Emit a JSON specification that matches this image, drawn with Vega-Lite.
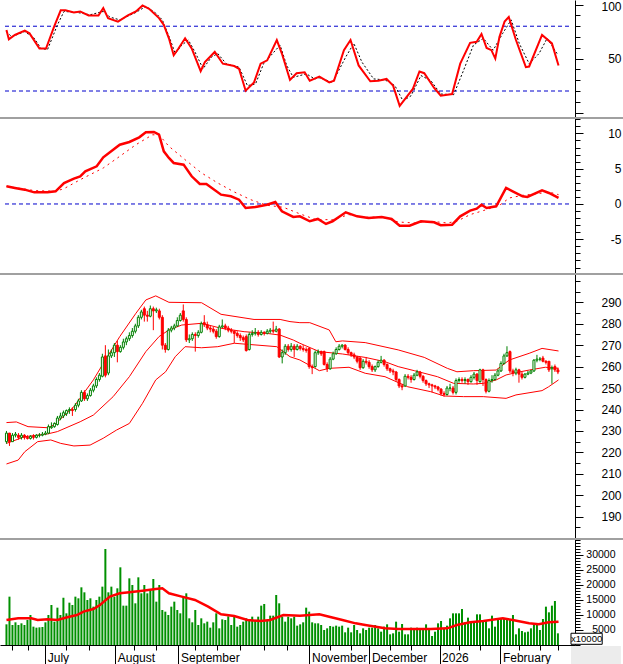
{
"$schema": "https://vega.github.io/schema/vega-lite/v6.json",
"autosize": {"type": "none"},
"padding": {"left": 0, "top": 0, "right": 0, "bottom": 19},
"width": 623,
"height": 645,
"background": "white",
"config": {"view": {"stroke": null}, "font": "Liberation Sans", "axis": {"labelFont": "Liberation Sans", "labelColor": "#000", "tickColor": "#000", "domainColor": "#000", "grid": false, "labelOverlap": false, "labelFlush": false, "labelBound": false}},
"datasets": {
"c": [
{"d":0,"o":225,"h":230,"l":224,"c":229,"v":6865},{"d":1,"o":229,"h":229,"l":223,"c":225,"v":16053},{"d":2,"o":225,"h":229,"l":225,"c":228,"v":6644},{"d":3,"o":228,"h":229.5,"l":227,"c":228.5,"v":7530},{"d":4,"o":228,"h":229,"l":226,"c":227,"v":6644},{"d":5,"o":227,"h":229,"l":226,"c":228,"v":7197},{"d":6,"o":228,"h":228.5,"l":226,"c":227,"v":6644},{"d":7,"o":227,"h":228,"l":226,"c":226.5,"v":8305},{"d":8,"o":226.5,"h":228,"l":226,"c":227.5,"v":9965},{"d":9,"o":227.5,"h":228.5,"l":226,"c":227,"v":6090},
{"d":10,"o":227,"h":228.5,"l":226.5,"c":228,"v":5758},{"d":11,"o":228,"h":229,"l":227,"c":228,"v":5869},{"d":12,"o":228,"h":229.5,"l":227.5,"c":228.5,"v":5980},{"d":13,"o":228.5,"h":230,"l":228,"c":229,"v":7530},{"d":14,"o":229,"h":233,"l":228.5,"c":232,"v":9965},{"d":15,"o":231.5,"h":234,"l":231,"c":232,"v":13286},{"d":16,"o":232,"h":234,"l":231.5,"c":233.5,"v":7751},{"d":17,"o":233,"h":237,"l":232.5,"c":236,"v":12400},{"d":18,"o":236,"h":238.5,"l":235,"c":237,"v":9965},{"d":19,"o":237,"h":239.5,"l":236,"c":238.5,"v":15721},
{"d":20,"o":238,"h":240,"l":237,"c":239.5,"v":10519},{"d":21,"o":239.5,"h":241,"l":238,"c":240,"v":14061},{"d":22,"o":240,"h":241,"l":237,"c":239.5,"v":13286},{"d":23,"o":240,"h":243,"l":239,"c":242,"v":16053},{"d":24,"o":242,"h":245,"l":241,"c":244,"v":15500},{"d":25,"o":244,"h":249,"l":243.5,"c":248,"v":19153},{"d":26,"o":248,"h":249,"l":244,"c":245,"v":17493},{"d":27,"o":245,"h":247.5,"l":244,"c":246.5,"v":14947},{"d":28,"o":246.5,"h":250,"l":246,"c":249,"v":15500},{"d":29,"o":249,"h":252,"l":248,"c":251,"v":12733},
{"d":30,"o":251,"h":255,"l":250,"c":254,"v":14947},{"d":31,"o":254,"h":257,"l":253,"c":256,"v":16053},{"d":32,"o":255.5,"h":266,"l":255,"c":264.5,"v":19375},{"d":33,"o":265,"h":270,"l":255,"c":256,"v":31884},{"d":34,"o":257,"h":268,"l":256,"c":265,"v":17493},{"d":35,"o":265,"h":268,"l":264,"c":266.5,"v":19375},{"d":36,"o":266.5,"h":271,"l":264.5,"c":270,"v":16053},{"d":37,"o":270,"h":272,"l":262,"c":267,"v":18821},{"d":38,"o":267,"h":270,"l":266.5,"c":269,"v":25795},{"d":39,"o":269,"h":273,"l":268,"c":271.5,"v":13065},
{"d":40,"o":271.5,"h":274,"l":270,"c":273,"v":13065},{"d":41,"o":273,"h":276,"l":272,"c":274.5,"v":22142},{"d":42,"o":274.5,"h":278,"l":273.5,"c":276.5,"v":19928},{"d":43,"o":276.5,"h":280,"l":275.5,"c":279,"v":13840},{"d":44,"o":279,"h":284,"l":278,"c":283,"v":22474},{"d":45,"o":283,"h":286.5,"l":282,"c":285.5,"v":17161},{"d":46,"o":287,"h":288,"l":281,"c":284,"v":19928},{"d":47,"o":284,"h":286,"l":281,"c":283.5,"v":17161},{"d":48,"o":283.5,"h":288.5,"l":283,"c":287,"v":18268},{"d":49,"o":287,"h":288,"l":277,"c":286,"v":21920},
{"d":50,"o":286,"h":287.5,"l":285,"c":286.5,"v":14393},{"d":51,"o":286,"h":287,"l":282,"c":283,"v":19928},{"d":52,"o":283,"h":284,"l":268,"c":270,"v":11626},{"d":53,"o":270,"h":271,"l":266.5,"c":268,"v":11072},{"d":54,"o":268,"h":278,"l":267.5,"c":277,"v":9965},{"d":55,"o":277,"h":279,"l":276,"c":278,"v":12733},{"d":56,"o":278,"h":280,"l":277,"c":279,"v":14393},{"d":57,"o":279,"h":283,"l":278.5,"c":281.5,"v":11626},{"d":58,"o":281.5,"h":285,"l":281,"c":284,"v":10519},{"d":59,"o":286,"h":289,"l":281,"c":282,"v":16053},
{"d":60,"o":282,"h":283,"l":271.5,"c":272.5,"v":17161},{"d":61,"o":272.5,"h":275,"l":271,"c":273,"v":8858},{"d":62,"o":273,"h":276,"l":272,"c":275,"v":7530},{"d":63,"o":275,"h":276,"l":267,"c":274.5,"v":11626},{"d":64,"o":274.5,"h":277,"l":273.5,"c":276,"v":6644},{"d":65,"o":276,"h":281,"l":275.5,"c":280,"v":8858},{"d":66,"o":280.5,"h":284,"l":278.5,"c":279.5,"v":7197},{"d":67,"o":279.5,"h":281,"l":277,"c":278,"v":7751},{"d":68,"o":278,"h":279,"l":276,"c":277.5,"v":5758},{"d":69,"o":277.5,"h":278.5,"l":275.5,"c":276.5,"v":7530},
{"d":70,"o":276.5,"h":277.5,"l":273,"c":274,"v":10519},{"d":71,"o":274,"h":279.5,"l":273.5,"c":278.5,"v":5537},{"d":72,"o":278.5,"h":282,"l":278,"c":279,"v":8526},{"d":73,"o":279,"h":280,"l":277,"c":278,"v":8305},{"d":74,"o":278,"h":279,"l":276,"c":277,"v":9522},{"d":75,"o":277,"h":278,"l":275.5,"c":276.5,"v":6644},{"d":76,"o":276.5,"h":277,"l":271,"c":275.5,"v":9522},{"d":77,"o":275.5,"h":276.5,"l":273.5,"c":274.5,"v":6090},{"d":78,"o":274.5,"h":275.5,"l":272,"c":273.5,"v":6644},{"d":79,"o":273.5,"h":274.5,"l":271.5,"c":272.5,"v":7751},
{"d":80,"o":274,"h":275,"l":267,"c":267.5,"v":8858},{"d":81,"o":268,"h":276,"l":267.5,"c":275,"v":8305},{"d":82,"o":275,"h":277,"l":274,"c":275.5,"v":9411},{"d":83,"o":275.5,"h":278,"l":274.5,"c":276,"v":7972},{"d":84,"o":276,"h":277,"l":274,"c":275,"v":9411},{"d":85,"o":275,"h":277,"l":274.5,"c":276,"v":13065},{"d":86,"o":276,"h":276.5,"l":274.5,"c":275.5,"v":13618},{"d":87,"o":275.5,"h":277.5,"l":275,"c":276.5,"v":8305},{"d":88,"o":276.5,"h":278,"l":275.5,"c":277,"v":9744},{"d":89,"o":277,"h":281,"l":275.5,"c":276.5,"v":9744},
{"d":90,"o":276.5,"h":279,"l":276,"c":277.5,"v":16607},{"d":91,"o":277.5,"h":278,"l":264,"c":264.5,"v":13840},{"d":92,"o":264.5,"h":268,"l":261.5,"c":266.5,"v":9411},{"d":93,"o":266.5,"h":270.5,"l":265.5,"c":269.5,"v":7751},{"d":94,"o":269.5,"h":270.5,"l":267,"c":268,"v":9411},{"d":95,"o":268,"h":271,"l":267,"c":269.5,"v":8858},{"d":96,"o":269.5,"h":270.5,"l":264.5,"c":268,"v":9411},{"d":97,"o":268,"h":270.5,"l":267.5,"c":269.5,"v":6423},{"d":98,"o":269.5,"h":270,"l":267.5,"c":268.5,"v":6865},{"d":99,"o":268.5,"h":270,"l":267,"c":268,"v":7530},
{"d":100,"o":268,"h":269,"l":266.5,"c":267.5,"v":12400},{"d":101,"o":268.5,"h":269,"l":259,"c":260,"v":11072},{"d":102,"o":260,"h":261,"l":256.5,"c":259.5,"v":7530},{"d":103,"o":260,"h":267.5,"l":259.5,"c":266.5,"v":7197},{"d":104,"o":266.5,"h":268,"l":265.5,"c":267,"v":7197},{"d":105,"o":267,"h":267.5,"l":265,"c":266,"v":6644},{"d":106,"o":267,"h":267.5,"l":260.5,"c":261,"v":4983},{"d":107,"o":261,"h":262,"l":257.5,"c":259,"v":5537},{"d":108,"o":259,"h":264.5,"l":258.5,"c":263.5,"v":6312},{"d":109,"o":263.5,"h":267,"l":263,"c":266,"v":6090},
{"d":110,"o":266,"h":269,"l":265.5,"c":268,"v":6423},{"d":111,"o":268,"h":270.5,"l":267.5,"c":269.5,"v":6090},{"d":112,"o":269.5,"h":270.5,"l":268.5,"c":270,"v":6423},{"d":113,"o":270,"h":270.5,"l":267.5,"c":268,"v":4209},{"d":114,"o":268,"h":269,"l":265.5,"c":266.5,"v":5758},{"d":115,"o":266.5,"h":267,"l":264.5,"c":265.5,"v":4209},{"d":116,"o":265.5,"h":266.5,"l":263.5,"c":264.5,"v":6644},{"d":117,"o":264.5,"h":265,"l":261.5,"c":262.5,"v":4983},{"d":118,"o":264,"h":264.5,"l":258.5,"c":259.5,"v":3877},{"d":119,"o":259.5,"h":263.5,"l":259,"c":262.5,"v":5537},
{"d":120,"o":262.5,"h":264.5,"l":261,"c":262,"v":4983},{"d":121,"o":262,"h":263,"l":259,"c":260,"v":5758},{"d":122,"o":260,"h":261,"l":257.5,"c":258.5,"v":5758},{"d":123,"o":258.5,"h":260.5,"l":257.5,"c":260,"v":6644},{"d":124,"o":260,"h":263,"l":259.5,"c":262,"v":5537},{"d":125,"o":262,"h":265,"l":261.5,"c":263,"v":4430},{"d":126,"o":263,"h":263.5,"l":260,"c":261,"v":6090},{"d":127,"o":261,"h":261.5,"l":258,"c":259,"v":6865},{"d":128,"o":259,"h":259.5,"l":257,"c":258,"v":3544},{"d":129,"o":258,"h":259,"l":256,"c":257.5,"v":3877},
{"d":130,"o":257.5,"h":258,"l":253,"c":254,"v":7751},{"d":131,"o":254,"h":254.5,"l":250,"c":251,"v":4430},{"d":132,"o":251,"h":252,"l":249,"c":250.5,"v":6976},{"d":133,"o":251,"h":256.5,"l":250.5,"c":255.5,"v":3544},{"d":134,"o":255.5,"h":256.5,"l":254,"c":255,"v":3544},{"d":135,"o":255,"h":256,"l":252.5,"c":254,"v":5758},{"d":136,"o":254,"h":257,"l":253.5,"c":256,"v":5316},{"d":137,"o":256,"h":258.5,"l":255.5,"c":257.5,"v":5758},{"d":138,"o":257.5,"h":258,"l":254.5,"c":255.5,"v":5537},{"d":139,"o":255.5,"h":256,"l":252.5,"c":253.5,"v":5316},
{"d":140,"o":253.5,"h":254,"l":251,"c":252,"v":6865},{"d":141,"o":252,"h":252.5,"l":250,"c":251.5,"v":4983},{"d":142,"o":251.5,"h":252,"l":248,"c":251,"v":2990},{"d":143,"o":251,"h":251.5,"l":249.5,"c":250.5,"v":4430},{"d":144,"o":250.5,"h":251,"l":248.5,"c":249.5,"v":7197},{"d":145,"o":249.5,"h":250,"l":246.5,"c":247.5,"v":7972},{"d":146,"o":247.5,"h":248.5,"l":246,"c":247,"v":5537},{"d":147,"o":247,"h":251,"l":246.5,"c":250,"v":6423},{"d":148,"o":250,"h":252,"l":248.5,"c":250,"v":8858},{"d":149,"o":250,"h":251,"l":247,"c":248,"v":10519},
{"d":150,"o":248,"h":254.5,"l":247,"c":253.5,"v":10519},{"d":151,"o":253.5,"h":255,"l":252.5,"c":254,"v":10519},{"d":152,"o":254,"h":255,"l":252.5,"c":253.5,"v":11958},{"d":153,"o":253.5,"h":255,"l":252,"c":254,"v":7530},{"d":154,"o":254,"h":254.5,"l":251.5,"c":253,"v":9080},{"d":155,"o":253,"h":256,"l":252.5,"c":255,"v":7530},{"d":156,"o":255,"h":257.5,"l":254,"c":256.5,"v":7972},{"d":157,"o":256.5,"h":257,"l":251.5,"c":253.5,"v":10186},{"d":158,"o":253,"h":259,"l":252.5,"c":258.5,"v":10186},{"d":159,"o":258.5,"h":259,"l":251,"c":254,"v":7972},
{"d":160,"o":254,"h":254.5,"l":247.5,"c":248.5,"v":8305},{"d":161,"o":248.5,"h":254.5,"l":248,"c":253.5,"v":5537},{"d":162,"o":253.5,"h":256,"l":252.5,"c":254,"v":9744},{"d":163,"o":254,"h":257,"l":253.5,"c":256,"v":6090},{"d":164,"o":256,"h":259,"l":255.5,"c":258,"v":8305},{"d":165,"o":258,"h":262.5,"l":257.5,"c":261.5,"v":8636},{"d":166,"o":261.5,"h":266,"l":261,"c":265,"v":8858},{"d":167,"o":265,"h":269.5,"l":264.5,"c":266.5,"v":8305},{"d":168,"o":267,"h":267.5,"l":257,"c":258,"v":8305},{"d":169,"o":258,"h":259,"l":255.5,"c":257,"v":9965},
{"d":170,"o":257,"h":259.5,"l":256,"c":258.5,"v":3544},{"d":171,"o":258.5,"h":259,"l":252.5,"c":256.5,"v":5537},{"d":172,"o":256.5,"h":257.5,"l":254,"c":255,"v":4651},{"d":173,"o":255,"h":257,"l":254.5,"c":256.5,"v":4209},{"d":174,"o":256.5,"h":258,"l":256,"c":257,"v":4430},{"d":175,"o":257,"h":258.5,"l":256.5,"c":258,"v":5537},{"d":176,"o":258,"h":263.5,"l":257.5,"c":263,"v":7197},{"d":177,"o":263,"h":265.5,"l":262,"c":263.5,"v":6865},{"d":178,"o":263.5,"h":264.5,"l":262.5,"c":263.5,"v":4983},{"d":179,"o":264,"h":265,"l":262,"c":262.5,"v":8636},
{"d":180,"o":262.5,"h":263,"l":261,"c":262,"v":12733},{"d":181,"o":262.5,"h":262.5,"l":257.5,"c":258.5,"v":10850},{"d":182,"o":259,"h":260.5,"l":252,"c":259.5,"v":13065},{"d":183,"o":260,"h":261,"l":257.5,"c":258.5,"v":14614},{"d":184,"o":258.5,"h":259.5,"l":256.5,"c":257.5,"v":3877}
],
"k": [{"d":0,"v":76.5},{"d":0.8,"v":67.8},{"d":2.8,"v":71.9},{"d":6.1,"v":75.9},{"d":7.7,"v":73.4},{"d":11,"v":59.4},{"d":13.2,"v":59.4},{"d":15.9,"v":79.6},{"d":18.1,"v":94.7},{"d":19.7,"v":94.7},{"d":22.5,"v":92.8},{"d":24.6,"v":93.7},{"d":27.4,"v":90},{"d":30.7,"v":90},{"d":32.3,"v":96.9},{"d":33.9,"v":87.5},{"d":37.2,"v":84.3},{"d":40.5,"v":90},{"d":43.2,"v":93.7},{"d":45.4,"v":99.3},{"d":47.6,"v":96.2},{"d":50.9,"v":87.5},{"d":52.5,"v":81.2},{"d":54.2,"v":68.8},{"d":55.8,"v":53.1},{"d":57.4,"v":59.4},{"d":59.6,"v":68.8},{"d":61.8,"v":59.4},{"d":64.8,"v":38.4},{"d":66.2,"v":46.8},{"d":69.5,"v":56.2},{"d":72.2,"v":45.3},{"d":76,"v":43.1},{"d":77.6,"v":40.6},{"d":79.8,"v":20.3},{"d":82.6,"v":28},{"d":84.8,"v":45.3},{"d":87,"v":48.4},{"d":90.2,"v":67.2},{"d":91.9,"v":54.7},{"d":94.6,"v":30.3},{"d":96.8,"v":36.5},{"d":99.5,"v":37.4},{"d":101.2,"v":29.6},{"d":104.4,"v":33.4},{"d":107.7,"v":28},{"d":109.3,"v":29.6},{"d":112.6,"v":57.8},{"d":114.8,"v":67.2},{"d":117.5,"v":43.7},{"d":121.4,"v":29},{"d":124.1,"v":29.6},{"d":126.8,"v":31.2},{"d":129,"v":25},{"d":131.2,"v":6.2},{"d":135.6,"v":21.9},{"d":137.8,"v":38.1},{"d":139.4,"v":36.5},{"d":142.7,"v":22.8},{"d":144.9,"v":15.6},{"d":148.7,"v":17.2},{"d":151.4,"v":45.3},{"d":154.7,"v":64.6},{"d":156.9,"v":65.6},{"d":158.5,"v":72.8},{"d":160.2,"v":59.9},{"d":161.8,"v":57.8},{"d":163.1,"v":50},{"d":164.5,"v":70.3},{"d":166.2,"v":84.3},{"d":167.6,"v":88.5},{"d":170,"v":67.2},{"d":173.3,"v":42.1},{"d":174.4,"v":42.7},{"d":178.7,"v":71.9},{"d":182,"v":64.1},{"d":184.2,"v":43.7}],
"kd": [{"d":0,"v":75},{"d":1.7,"v":70.3},{"d":6.1,"v":75},{"d":9.3,"v":68.8},{"d":11.5,"v":59.4},{"d":13.7,"v":58.4},{"d":17,"v":81.2},{"d":19.2,"v":93.7},{"d":23.5,"v":92.8},{"d":27.9,"v":90.6},{"d":32.3,"v":93.7},{"d":34.5,"v":88.5},{"d":37.8,"v":85.9},{"d":43.2,"v":92.8},{"d":46.5,"v":98.4},{"d":49.8,"v":92.2},{"d":52,"v":85.9},{"d":54.7,"v":67.2},{"d":56.3,"v":54.7},{"d":58.5,"v":62.5},{"d":60.7,"v":67.2},{"d":62.9,"v":56.2},{"d":65.6,"v":40.6},{"d":68.4,"v":51.5},{"d":70.5,"v":54.7},{"d":73.3,"v":45.3},{"d":77.6,"v":42.1},{"d":80.4,"v":25},{"d":83.1,"v":26.5},{"d":85.8,"v":45.3},{"d":91.3,"v":62.5},{"d":93.5,"v":43.7},{"d":95.7,"v":32.7},{"d":100.1,"v":35.9},{"d":102.8,"v":31.2},{"d":104.4,"v":32.2},{"d":108.8,"v":28},{"d":113.2,"v":51.5},{"d":115.9,"v":64.1},{"d":118.6,"v":46.8},{"d":122.5,"v":31.2},{"d":126.3,"v":30.3},{"d":129.6,"v":25},{"d":132.3,"v":10.9},{"d":135,"v":15.6},{"d":138.3,"v":34.3},{"d":141.6,"v":29.6},{"d":144.9,"v":17.2},{"d":149.2,"v":16.6},{"d":152.5,"v":39},{"d":155.8,"v":62.5},{"d":159.1,"v":68.8},{"d":162.4,"v":57.8},{"d":165.6,"v":73.5},{"d":168.4,"v":85.9},{"d":171.1,"v":64.1},{"d":174.4,"v":45.3},{"d":177.7,"v":54.7},{"d":180.4,"v":68.8},{"d":183.7,"v":54.7}],
"m": [{"d":0,"v":2.5},{"d":2.8,"v":2.27},{"d":6.1,"v":2.03},{"d":9.3,"v":1.65},{"d":13.7,"v":1.65},{"d":16.4,"v":1.8},{"d":19.2,"v":2.97},{"d":22.5,"v":3.59},{"d":24.6,"v":3.92},{"d":26.3,"v":4.63},{"d":30.1,"v":5.33},{"d":32.3,"v":6.61},{"d":35.6,"v":7.69},{"d":37.8,"v":8.4},{"d":41,"v":8.78},{"d":44.3,"v":9.44},{"d":46.5,"v":10.15},{"d":49.2,"v":10.2},{"d":50.9,"v":9.82},{"d":52.5,"v":7.46},{"d":54.2,"v":6.52},{"d":55.8,"v":5.81},{"d":59.1,"v":5.57},{"d":61.8,"v":3.92},{"d":64.5,"v":2.83},{"d":66.7,"v":2.83},{"d":71.6,"v":1.32},{"d":74.9,"v":1.09},{"d":77.6,"v":0.61},{"d":79.8,"v":-0.57},{"d":83.1,"v":-0.42},{"d":86.9,"v":-0.1},{"d":89.7,"v":0.28},{"d":91.9,"v":-1.04},{"d":95.7,"v":-1.84},{"d":97.9,"v":-1.75},{"d":101.2,"v":-2.45},{"d":103.9,"v":-2.12},{"d":106.6,"v":-2.83},{"d":108.8,"v":-2.45},{"d":113.2,"v":-1.18},{"d":117,"v":-1.75},{"d":120.8,"v":-1.98},{"d":125.2,"v":-1.84},{"d":128.5,"v":-2.12},{"d":131.2,"v":-3.07},{"d":134.5,"v":-3.07},{"d":138.3,"v":-2.45},{"d":142.7,"v":-2.6},{"d":144.9,"v":-3.0},{"d":148.7,"v":-2.93},{"d":151.4,"v":-1.75},{"d":154.7,"v":-0.94},{"d":156.9,"v":-0.66},{"d":158.5,"v":-0.1},{"d":160.2,"v":-0.57},{"d":163.4,"v":-0.33},{"d":166.7,"v":2.27},{"d":168.9,"v":1.8},{"d":172.2,"v":1.09},{"d":173.8,"v":1.0},{"d":178.7,"v":1.94},{"d":181,"v":1.56},{"d":184.2,"v":0.85}],
"ms": [{"d":0,"v":2.5},{"d":9.3,"v":1.9},{"d":16.4,"v":1.8},{"d":19.2,"v":2.17},{"d":24.6,"v":3.44},{"d":32.3,"v":5.1},{"d":37.8,"v":6.75},{"d":43.2,"v":8.4},{"d":48.7,"v":9.8},{"d":50.9,"v":9.8},{"d":54.2,"v":8.17},{"d":59.6,"v":6.27},{"d":65.1,"v":4.39},{"d":70.5,"v":2.97},{"d":76,"v":1.7},{"d":81.5,"v":0.61},{"d":86.9,"v":-0.18},{"d":92.4,"v":-0.47},{"d":97.9,"v":-1.4},{"d":103.3,"v":-2.22},{"d":108.8,"v":-2.22},{"d":114.3,"v":-1.51},{"d":119.7,"v":-1.89},{"d":125.2,"v":-1.84},{"d":130.7,"v":-2.55},{"d":136.1,"v":-2.69},{"d":141.6,"v":-2.45},{"d":147.1,"v":-2.69},{"d":150.3,"v":-2.45},{"d":154.7,"v":-1.51},{"d":159.1,"v":-0.94},{"d":164.5,"v":-0.19},{"d":167.8,"v":0.85},{"d":172.2,"v":1.23},{"d":176.6,"v":1.42},{"d":181,"v":1.7},{"d":184.2,"v":1.32}],
"bb": [{"b":"u","d":0,"v":233.9},{"b":"u","d":3.3,"v":234.2},{"b":"u","d":7.2,"v":232},{"b":"u","d":13.7,"v":231.5},{"b":"u","d":15.9,"v":232.8},{"b":"u","d":22.5,"v":241.3},{"b":"u","d":29,"v":253.8},{"b":"u","d":32.3,"v":261.5},{"b":"u","d":37.8,"v":274},{"b":"u","d":43.2,"v":284.9},{"b":"u","d":46.5,"v":291.1},{"b":"u","d":49.8,"v":293},{"b":"u","d":54.2,"v":290},{"b":"u","d":65.1,"v":289.8},{"b":"u","d":71.6,"v":284.4},{"b":"u","d":82.6,"v":282},{"b":"u","d":91.3,"v":282},{"b":"u","d":94.6,"v":281},{"b":"u","d":97.9,"v":280.5},{"b":"u","d":101.2,"v":280.5},{"b":"u","d":107.7,"v":277.1},{"b":"u","d":109.9,"v":271.6},{"b":"u","d":112.1,"v":272},{"b":"u","d":119.7,"v":271.2},{"b":"u","d":130.7,"v":267.8},{"b":"u","d":139.4,"v":264.3},{"b":"u","d":147.1,"v":259.2},{"b":"u","d":150.3,"v":257.6},{"b":"u","d":155.8,"v":258.1},{"b":"u","d":163.4,"v":258.4},{"b":"u","d":167.8,"v":263.1},{"b":"u","d":174.4,"v":266.2},{"b":"u","d":178.7,"v":268.5},{"b":"u","d":184.2,"v":267.3},
{"b":"m","d":0,"v":224.2},{"b":"m","d":6.1,"v":227.3},{"b":"m","d":13.7,"v":228.6},{"b":"m","d":17,"v":229.7},{"b":"m","d":24.6,"v":234.3},{"b":"m","d":29,"v":237.4},{"b":"m","d":35.6,"v":246},{"b":"m","d":41,"v":255.3},{"b":"m","d":46.5,"v":267},{"b":"m","d":50.9,"v":274},{"b":"m","d":54.2,"v":277.1},{"b":"m","d":58.5,"v":279.4},{"b":"m","d":65.1,"v":280.2},{"b":"m","d":71.6,"v":277.9},{"b":"m","d":79.3,"v":276.3},{"b":"m","d":86.9,"v":275.5},{"b":"m","d":91.3,"v":274.7},{"b":"m","d":95.7,"v":272.4},{"b":"m","d":97.9,"v":270.9},{"b":"m","d":104.4,"v":267},{"b":"m","d":112.1,"v":265.9},{"b":"m","d":119.7,"v":264.3},{"b":"m","d":126.3,"v":262.3},{"b":"m","d":130.7,"v":260},{"b":"m","d":136.1,"v":258.1},{"b":"m","d":143.8,"v":255.3},{"b":"m","d":149.2,"v":252.2},{"b":"m","d":155.8,"v":251.9},{"b":"m","d":159.1,"v":252.2},{"b":"m","d":163.4,"v":253.8},{"b":"m","d":166.7,"v":256.1},{"b":"m","d":170,"v":257.2},{"b":"m","d":174.4,"v":258.4},{"b":"m","d":179.8,"v":259.7},{"b":"m","d":184.2,"v":259.2},
{"b":"l","d":0,"v":214.6},{"b":"l","d":3.9,"v":216.4},{"b":"l","d":6.1,"v":220.3},{"b":"l","d":10.4,"v":225},{"b":"l","d":14.8,"v":225.8},{"b":"l","d":18.1,"v":224.2},{"b":"l","d":22.5,"v":223},{"b":"l","d":27.9,"v":223.4},{"b":"l","d":32.3,"v":226.6},{"b":"l","d":36.7,"v":230.4},{"b":"l","d":41,"v":233.5},{"b":"l","d":45.4,"v":242.9},{"b":"l","d":49.8,"v":253.8},{"b":"l","d":53.1,"v":257.6},{"b":"l","d":56.3,"v":264.6},{"b":"l","d":59.6,"v":269.3},{"b":"l","d":65.1,"v":268.8},{"b":"l","d":70.5,"v":269.3},{"b":"l","d":76,"v":270.9},{"b":"l","d":90.2,"v":269.3},{"b":"l","d":94.6,"v":264.6},{"b":"l","d":97.9,"v":263.1},{"b":"l","d":104.4,"v":258.1},{"b":"l","d":107.7,"v":259.2},{"b":"l","d":114.3,"v":259.7},{"b":"l","d":119.7,"v":256.9},{"b":"l","d":126.3,"v":255.3},{"b":"l","d":133.9,"v":250.6},{"b":"l","d":141.6,"v":248.3},{"b":"l","d":146,"v":246.3},{"b":"l","d":152.5,"v":246},{"b":"l","d":159.1,"v":246},{"b":"l","d":166.7,"v":245.2},{"b":"l","d":170,"v":246.8},{"b":"l","d":178.7,"v":248.8},{"b":"l","d":180.9,"v":250.6},{"b":"l","d":184.2,"v":253.8}],
"vm": [{"d":0,"v":8300},{"d":3.9,"v":8860},{"d":8.3,"v":8860},{"d":10.4,"v":8300},{"d":13.7,"v":8520},{"d":17,"v":8300},{"d":20.3,"v":9190},{"d":23.5,"v":9960},{"d":25.7,"v":11070},{"d":29,"v":11960},{"d":31.2,"v":13290},{"d":34.5,"v":16060},{"d":37.8,"v":17170},{"d":41,"v":17500},{"d":45.4,"v":18050},{"d":49.8,"v":18600},{"d":52,"v":18820},{"d":54.2,"v":17170},{"d":58.5,"v":16060},{"d":62.9,"v":14950},{"d":67.3,"v":12740},{"d":71.6,"v":10190},{"d":76,"v":9630},{"d":80.4,"v":8300},{"d":84.8,"v":7970},{"d":88,"v":8300},{"d":92.4,"v":9960},{"d":97.9,"v":9740},{"d":104.4,"v":10190},{"d":107.7,"v":9410},{"d":112.1,"v":8300},{"d":116.5,"v":7190},{"d":119.7,"v":6640},{"d":126.3,"v":5540},{"d":130.7,"v":5320},{"d":141.6,"v":5320},{"d":147.1,"v":5540},{"d":150.3,"v":6640},{"d":154.7,"v":7520},{"d":159.1,"v":7970},{"d":165.6,"v":8860},{"d":168.9,"v":8300},{"d":174.4,"v":7190},{"d":177.6,"v":6860},{"d":180.9,"v":7520},{"d":184.2,"v":7750}]
},
"resolve": {"scale": {"y": "independent"}, "axis": {"y": "independent", "x": "independent"}},
"layer": [
{"data": {"values": [{"y": 80}, {"y": 20}]},
 "mark": {"type": "rule", "color": "#0000cc", "strokeDash": [4, 3], "strokeWidth": 1},
 "encoding": {
  "x": {"datum": -0.49, "type": "quantitative", "scale": {"domain": [-0.49, 188.03], "range": [0, 575], "nice": false, "zero": false}, "axis": null},
  "x2": {"datum": 188.03},
  "y": {"field": "y", "type": "quantitative", "scale": {"domain": [-5, 104.3], "range": [118, 0], "nice": false, "zero": false}, "axis": {"orient": "right", "offset": -48, "values": [0,10,20,30,40,50,60,70,80,90,100], "tickSize": 5, "labels": false, "domain": true, "title": null}}}},
{"data": {"name": "kd"},
 "mark": {"type": "line", "color": "#000000", "strokeWidth": 1, "strokeDash": [2, 2]},
 "encoding": {"x": {"field": "d", "type": "quantitative", "axis": null}, "y": {"field": "v", "type": "quantitative", "scale": {"domain": [-5, 104.3], "range": [118, 0], "nice": false, "zero": false}, "axis": null}}},
{"data": {"name": "k"},
 "mark": {"type": "line", "color": "#ff0000", "strokeWidth": 2},
 "encoding": {"x": {"field": "d", "type": "quantitative", "axis": null}, "y": {"field": "v", "type": "quantitative", "scale": {"domain": [-5, 104.3], "range": [118, 0], "nice": false, "zero": false}, "axis": {"orient": "right", "offset": -48, "values": [0, 50, 100], "tickSize": 8, "labelExpr": "datum.value == 0 ? '' : '' + datum.value", "labelAlign": "right", "labelBaseline": {"condition": {"test": "datum.value == 100", "value": "top"}, "value": "middle"}, "labelOffset": {"condition": {"test": "datum.value == 100", "value": -3}, "value": 0}, "labelPadding": 38, "labelFontSize": 12, "domain": false, "title": null}}}},
{"data": {"values": [{"y": -5}]},
 "mark": {"type": "rule", "color": "#a0a0a0", "strokeWidth": 2},
 "encoding": {"y": {"field": "y", "type": "quantitative", "scale": {"domain": [-5, 104.3], "range": [118, 0], "nice": false, "zero": false}, "axis": null}}},
{"data": {"values": [{"y": 0}]},
 "mark": {"type": "rule", "color": "#0000cc", "strokeDash": [4, 3], "strokeWidth": 1},
 "encoding": {
  "x": {"datum": -0.49, "type": "quantitative", "axis": null},
  "x2": {"datum": 188.03},
  "y": {"field": "y", "type": "quantitative", "scale": {"domain": [-9.92, 12.18], "range": [274, 118], "nice": false, "zero": false}, "axis": {"orient": "right", "offset": -48, "values": [-9,-8,-7,-6,-5,-4,-3,-2,-1,0,1,2,3,4,5,6,7,8,9,10,11,12], "tickSize": 5, "labels": false, "domain": true, "title": null}}}},
{"data": {"name": "ms"},
 "mark": {"type": "line", "color": "#ff0000", "strokeWidth": 1, "strokeDash": [2, 4]},
 "encoding": {"x": {"field": "d", "type": "quantitative", "axis": null}, "y": {"field": "v", "type": "quantitative", "scale": {"domain": [-9.92, 12.18], "range": [274, 118], "nice": false, "zero": false}, "axis": null}}},
{"data": {"name": "m"},
 "mark": {"type": "line", "color": "#ff0000", "strokeWidth": 2.5},
 "encoding": {"x": {"field": "d", "type": "quantitative", "axis": null}, "y": {"field": "v", "type": "quantitative", "scale": {"domain": [-9.92, 12.18], "range": [274, 118], "nice": false, "zero": false}, "axis": {"orient": "right", "offset": -48, "values": [-5, 0, 5, 10], "tickSize": 8, "labelExpr": "'' + datum.value", "labelAlign": "right", "labelBaseline": "middle", "labelPadding": 38, "labelFontSize": 12, "domain": false, "title": null}}}},
{"data": {"values": [{"y": -9.92}]},
 "mark": {"type": "rule", "color": "#a0a0a0", "strokeWidth": 2},
 "encoding": {"y": {"field": "y", "type": "quantitative", "scale": {"domain": [-9.92, 12.18], "range": [274, 118], "nice": false, "zero": false}, "axis": null}}},
{"data": {"name": "bb"},
 "mark": {"type": "line", "color": "#ff0000", "strokeWidth": 1},
 "encoding": {
  "x": {"field": "d", "type": "quantitative", "axis": null},
  "y": {"field": "v", "type": "quantitative", "scale": {"domain": [179.6, 303.2], "range": [539, 274], "nice": false, "zero": false}, "axis": {"orient": "right", "offset": -48, "values": [180,185,190,195,200,205,210,215,220,225,230,235,240,245,250,255,260,265,270,275,280,285,290,295,300], "tickSize": 5, "labels": false, "domain": true, "title": null}},
  "detail": {"field": "b", "type": "nominal"}}},
{"data": {"name": "c"},
 "mark": {"type": "rule", "strokeWidth": 1},
 "encoding": {
  "x": {"field": "d", "type": "quantitative", "axis": null},
  "y": {"field": "l", "type": "quantitative", "scale": {"domain": [179.6, 303.2], "range": [539, 274], "nice": false, "zero": false}, "axis": null},
  "y2": {"field": "h"},
  "color": {"condition": {"test": "datum.c >= datum.o", "value": "#008000"}, "value": "#ff0000"}}},
{"data": {"name": "c"},
 "mark": {"type": "bar", "size": 2, "strokeWidth": 1},
 "encoding": {
  "x": {"field": "d", "type": "quantitative", "axis": null},
  "y": {"field": "o", "type": "quantitative", "scale": {"domain": [179.6, 303.2], "range": [539, 274], "nice": false, "zero": false}, "axis": {"orient": "right", "offset": -48, "values": [190,200,210,220,230,240,250,260,270,280,290], "tickSize": 8, "labelExpr": "'' + datum.value", "labelAlign": "right", "labelBaseline": "middle", "labelPadding": 38, "labelFontSize": 12, "domain": false, "title": null}},
  "y2": {"field": "c"},
  "fill": {"condition": {"test": "datum.c >= datum.o", "value": "#ffffff"}, "value": "#ff0000"},
  "stroke": {"condition": {"test": "datum.c >= datum.o", "value": "#008000"}, "value": "#ff0000"}}},
{"data": {"values": [{"y": 179.6}]},
 "mark": {"type": "rule", "color": "#a0a0a0", "strokeWidth": 2},
 "encoding": {"y": {"field": "y", "type": "quantitative", "scale": {"domain": [179.6, 303.2], "range": [539, 274], "nice": false, "zero": false}, "axis": null}}},
{"data": {"name": "c"},
 "mark": {"type": "bar", "size": 2, "color": "#009000"},
 "encoding": {
  "x": {"field": "d", "type": "quantitative", "axis": {"orient": "bottom", "values": [2, 7.2, 20, 27.5, 42.5, 50, 63, 70.3, 78, 85.8, 93.5, 108, 115, 128, 135, 151, 158, 171, 178, 184], "tickSize": 5, "labels": false, "domain": true, "title": null}},
  "y": {"field": "v", "type": "quantitative", "scale": {"domain": [0, 35200], "range": [645, 539], "nice": false, "zero": false}, "axis": {"orient": "right", "offset": -48, "values": [0,1000,2000,3000,4000,5000,6000,7000,8000,9000,10000,11000,12000,13000,14000,15000,16000,17000,18000,19000,20000,21000,22000,23000,24000,25000,26000,27000,28000,29000,30000,31000,32000,33000,34000,35000], "tickSize": 5, "labels": false, "domain": true, "title": null}}}},
{"data": {"name": "vm"},
 "mark": {"type": "line", "color": "#ff0000", "strokeWidth": 2.5},
 "encoding": {
  "x": {"field": "d", "type": "quantitative", "axis": {"orient": "bottom", "values": [-8, 12.95, 36.3, 57.4, 101.1, 121.1, 144.5, 164.8], "tickSize": 19, "labelExpr": "datum.value < 0 ? 'June' : datum.value < 20 ? 'July' : datum.value < 40 ? 'August' : datum.value < 60 ? 'September' : datum.value < 110 ? 'November' : datum.value < 130 ? 'December' : datum.value < 150 ? '2026' : 'February'", "labelAlign": "left", "labelBaseline": "alphabetic", "labelOffset": 2, "labelPadding": -3, "labelFontSize": 12, "domain": false, "title": null}},
  "y": {"field": "v", "type": "quantitative", "scale": {"domain": [0, 35200], "range": [645, 539], "nice": false, "zero": false}, "axis": {"orient": "right", "offset": -48, "values": [5000, 10000, 15000, 20000, 25000, 30000], "tickSize": 8, "labelExpr": "'' + datum.value", "labelAlign": "right", "labelBaseline": "middle", "labelPadding": 32, "labelFontSize": 10.5, "domain": false, "title": null}}}},
{"data": {"values": [{"x": 188.36, "x2": 205, "y": -300, "y2": -6400}]},
 "mark": {"type": "rect", "fill": "#ececec", "stroke": null},
 "encoding": {
  "x": {"field": "x", "type": "quantitative", "axis": null},
  "x2": {"field": "x2"},
  "y": {"field": "y", "type": "quantitative", "scale": {"domain": [0, 35200], "range": [645, 539], "nice": false, "zero": false}, "axis": null},
  "y2": {"field": "y2"}}},
{"data": {"values": [{"x": 188.36, "x2": 198.78, "y": 230, "y2": 3900}]},
 "mark": {"type": "rect", "fill": "#ffffff", "stroke": "#000000", "strokeWidth": 1},
 "encoding": {
  "x": {"field": "x", "type": "quantitative", "axis": null},
  "x2": {"field": "x2"},
  "y": {"field": "y", "type": "quantitative", "scale": {"domain": [0, 35200], "range": [645, 539], "nice": false, "zero": false}, "axis": null},
  "y2": {"field": "y2"}}},
{"data": {"values": [{"t": "x10000", "x": 193.57, "y": 2065}]},
 "mark": {"type": "text", "align": "center", "baseline": "middle", "fontSize": 9.5, "color": "#000"},
 "encoding": {
  "x": {"field": "x", "type": "quantitative", "axis": null},
  "y": {"field": "y", "type": "quantitative", "scale": {"domain": [0, 35200], "range": [645, 539], "nice": false, "zero": false}, "axis": null},
  "text": {"field": "t"}}}
]
}
